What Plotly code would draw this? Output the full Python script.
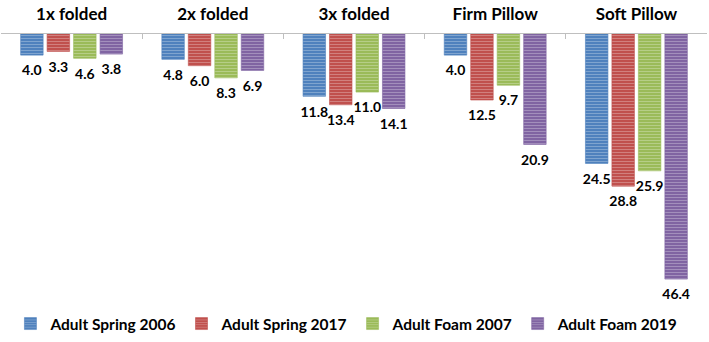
import plotly.graph_objects as go

categories = ["1x folded", "2x folded", "3x folded", "Firm Pillow", "Soft Pillow"]
series_names = ["Adult Spring 2006", "Adult Spring 2017", "Adult Foam 2007", "Adult Foam 2019"]
spring_2006 = [4.0, 4.8, 11.8, 4.0, 24.5]
spring_2017 = [3.3, 6.0, 13.4, 12.5, 28.8]
foam_2007 = [4.6, 8.3, 11.0, 9.7, 25.9]
foam_2019 = [3.8, 6.9, 14.1, 20.9, 46.4]
series_values = [spring_2006, spring_2017, foam_2007, foam_2019]
colors = ["#4F81BD", "#C0504D", "#9BBB59", "#8064A2"]

FONT = "Lato"

fig = go.Figure()
for name, vals, c in zip(series_names, series_values, colors):
    fig.add_trace(go.Bar(
        name=name, x=categories, y=vals,
        hoverinfo="skip",
        marker=dict(
            color=c,
            line=dict(color=c, width=0.6),
            pattern=dict(shape="-", bgcolor=c, fgcolor="rgba(255,255,255,0.55)",
                         size=3, solidity=0.35, fillmode="overlay"),
        ),
    ))

# value labels, placed just below each bar end
for name, vals in zip(series_names, series_values):
    fig.add_trace(go.Scatter(
        name=name, x=categories, y=vals, mode="markers+text",
        text=[f"{v:.1f}" for v in vals], textposition="bottom center",
        textfont=dict(family=FONT, size=14, color="#000000", weight="bold"),
        marker=dict(size=14, opacity=0), showlegend=False, hoverinfo="skip",
        cliponaxis=False,
    ))

fig.update_layout(
    width=709, height=342,
    margin=dict(l=1, r=2, t=34, b=37, autoexpand=False),
    paper_bgcolor="white", plot_bgcolor="white",
    barmode="group", bargap=0.25, bargroupgap=0.15,
    scattermode="group", scattergap=0.25,
    font=dict(family=FONT, color="#000000"),
    showlegend=True,
    legend=dict(orientation="h", x=0.49, xanchor="center", y=-0.07, yanchor="middle",
                font=dict(family=FONT, size=15.5, weight="bold"), itemwidth=30,
                traceorder="normal"),
    xaxis=dict(side="top", showline=True, linecolor="#BFBFBF", linewidth=1,
               ticks="inside", ticklen=5, tickcolor="#BFBFBF", tickson="boundaries",
               automargin=False, ticklabelstandoff=6,
               tickfont=dict(family=FONT, size=17, weight="bold"), showgrid=False),
    yaxis=dict(range=[51.3, 0], visible=False, showgrid=False, zeroline=False),
)

fig.write_html("out.html", config={"displayModeBar": False},
               post_script="document.body.style.margin='0';")
